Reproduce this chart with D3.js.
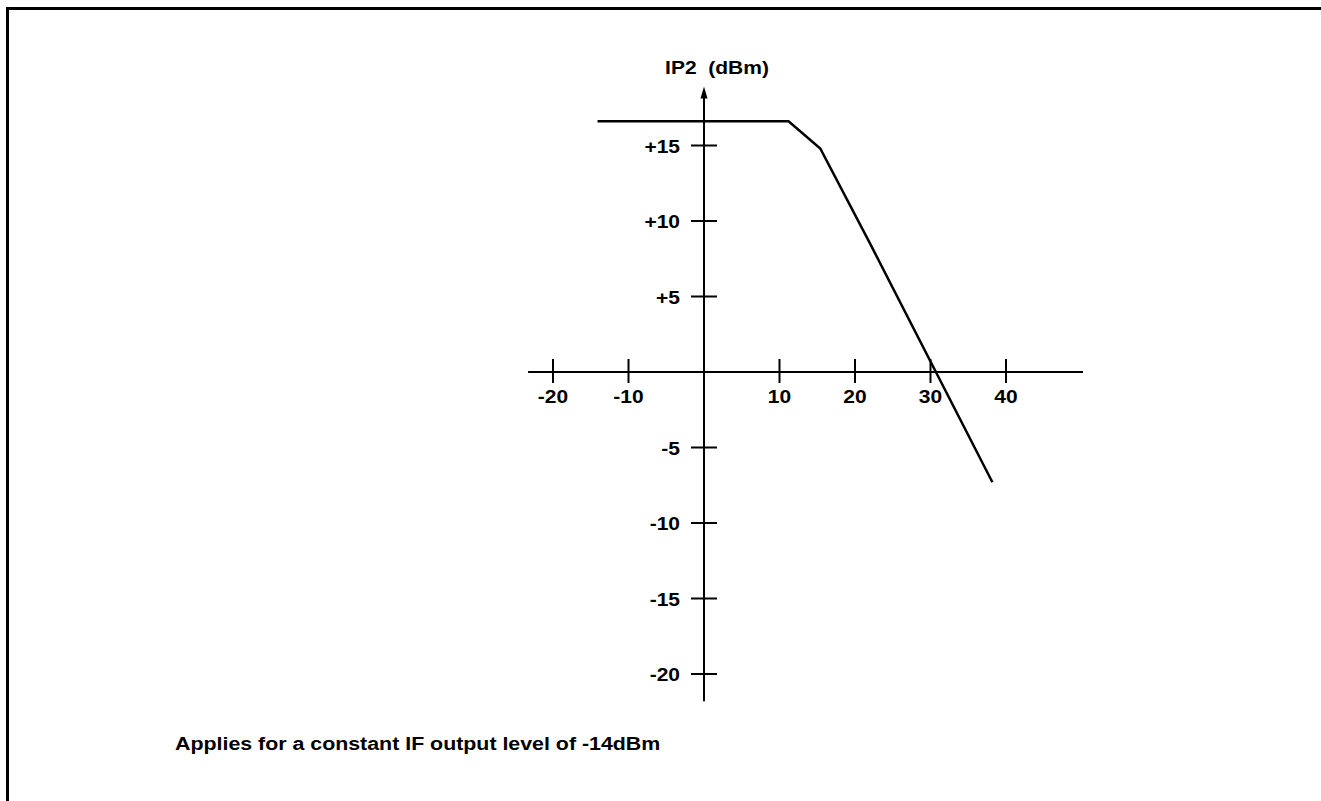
<!DOCTYPE html>
<html>
<head>
<meta charset="utf-8">
<script src="https://cdn.jsdelivr.net/npm/d3@7"></script>
<style>
	body { margin: 0; background: #fff; }
	svg text { font-family: "Liberation Sans", Arial, sans-serif; font-weight: bold; fill: #000; white-space: pre; }
</style>
</head>
<body>
<div id="container"></div>
<script>
// Chart size
const width = 1321;
const height = 801;

// Data
const xTicks = [-20, -10, 10, 20, 30, 40];
const xTickLabels = ["-20", "-10", "10", "20", "30", "40"];
const yTicks = [15, 10, 5, -5, -10, -15, -20];
const yTickLabels = ["+15", "+10", "+5", "-5", "-10", "-15", "-20"];
const curveX = [-14.1, 11.2, 15.4, 22.0, 38.2];
const curveY = [16.6, 16.6, 14.8, 8.5, -7.3];
const xExtent = [-23.3, 50.2];
const yExtent = [-21.8, 18.9];
const yLabel = "IP2  (dBm)";
const note = "Applies for a constant IF output level of -14dBm";

// Scales
const x = d3.scaleLinear()
	.domain([0, 10])
	.range([704, 779.5]);

const y = d3.scaleLinear()
	.domain([0, 10])
	.range([372, 221]);

const stretch = 1.2;   // the lettering in the picture is wide
const fontSize = 17.5;

const svg = d3.select("#container").append("svg")
	.attr("width", width)
	.attr("height", height)
	.style("display", "block");

// Frame, top and left only
svg.append("path")
	.attr("d", `M7.5,${height} L7.5,8.5 L${width},8.5`)
	.attr("fill", "none")
	.attr("stroke", "#000")
	.attr("stroke-width", 3);

const text = function(str, px, py, anchor, size) {
	return svg.append("text")
		.attr("transform", `translate(${px},${py}) scale(${stretch},1)`)
		.attr("text-anchor", anchor)
		.style("font-size", (size || fontSize) + "px")
		.text(str);
}

// x-axis
svg.append("line")
	.attr("x1", x(xExtent[0])).attr("x2", x(xExtent[1]))
	.attr("y1", y(0)).attr("y2", y(0))
	.attr("stroke", "#000").attr("stroke-width", 2);

svg.selectAll(".xtick")
	.data(xTicks)
	.join("line")
		.attr("class", "xtick")
		.attr("x1", d => x(d)).attr("x2", d => x(d))
		.attr("y1", y(0) - 13).attr("y2", y(0) + 11)
		.attr("stroke", "#000").attr("stroke-width", 2);

xTicks.forEach((d, i) => text(xTickLabels[i], x(d), y(0) + 31, "middle"));

// y-axis
svg.append("line")
	.attr("x1", x(0)).attr("x2", x(0))
	.attr("y1", y(yExtent[0])).attr("y2", y(yExtent[1]) + 8)
	.attr("stroke", "#000").attr("stroke-width", 2);

svg.append("path")
	.attr("d", d3.line()([[x(0), y(yExtent[1])], [x(0) - 3.5, y(yExtent[1]) + 12], [x(0) + 3.5, y(yExtent[1]) + 12]]) + "Z")
	.attr("fill", "#000");

svg.selectAll(".ytick")
	.data(yTicks)
	.join("line")
		.attr("class", "ytick")
		.attr("x1", x(0) - 13).attr("x2", x(0) + 13)
		.attr("y1", d => y(d)).attr("y2", d => y(d))
		.attr("stroke", "#000").attr("stroke-width", 2);

yTicks.forEach((d, i) => text(yTickLabels[i], x(0) - 24, y(d) + 7, "end"));

text(yLabel, x(0) + 13, 74, "middle");

// IP2 curve
svg.append("path")
	.attr("d", d3.line()(curveX.map((d, i) => [x(d), y(curveY[i])])))
	.attr("fill", "none")
	.attr("stroke", "#000")
	.attr("stroke-width", 2.5)
	.attr("stroke-linejoin", "miter");

// Footnote
text(note, 175, 750, "start", 17.8);
</script>
</body>
</html>
